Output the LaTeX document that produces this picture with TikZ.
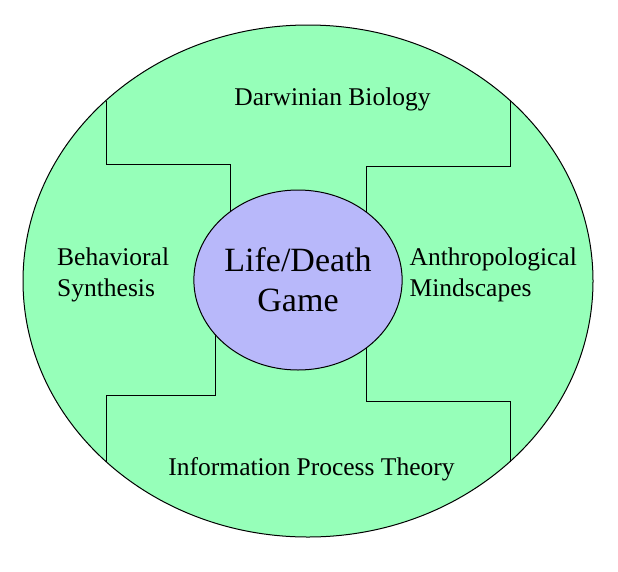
\documentclass[tikz,border=0pt]{standalone}
\usepackage{fontspec}
\setmainfont{Liberation Serif}
\usetikzlibrary{shapes.geometric}
\definecolor{zonegreen}{RGB}{150,255,185}
\definecolor{corepurple}{RGB}{184,184,250}
\begin{document}
\begin{tikzpicture}[x=1pt,y=-1pt,
  outerzone/.style={ellipse, draw=black, fill=zonegreen, line width=1pt,
    minimum width=570pt, minimum height=512pt, inner sep=0pt},
  corezone/.style={ellipse, draw=black, fill=corepurple, line width=1pt,
    minimum width=192pt, minimum height=180pt, inner sep=0pt, align=center,
    font=\fontsize{34}{40}\selectfont},
  divider/.style={draw=black, line width=1pt},
  field/.style={inner sep=0pt, font=\fontsize{25.5}{31}\selectfont, align=left}
]
\useasboundingbox (0,0) rectangle (618,571);
\node[outerzone] (world) at (308,281) {};
% dividers: from outer border to core border
\coordinate (tlA) at (106,100.5);
\coordinate (tlB) at (106,164);
\coordinate (tlC) at (230,164);
\coordinate (tlD) at (230,216.5);
\coordinate (trA) at (510,100.5);
\coordinate (trB) at (510,166);
\coordinate (trC) at (366,166);
\coordinate (trD) at (366,216.5);
\coordinate (blA) at (215,325.2);
\coordinate (blB) at (215,395);
\coordinate (blC) at (106,395);
\coordinate (blD) at (106,461.5);
\coordinate (brA) at (366,343.5);
\coordinate (brB) at (366,401);
\coordinate (brC) at (510,401);
\coordinate (brD) at (510,461.5);
\draw[divider] (tlA) -- (tlB) -- (tlC) -- (tlD);
\draw[divider] (trA) -- (trB) -- (trC) -- (trD);
\draw[divider] (blA) -- (blB) -- (blC) -- (blD);
\draw[divider] (brA) -- (brB) -- (brC) -- (brD);
\node[corezone] (core) at (298,280) {Life/Death\\Game};
\node[field, anchor=base] (darwin) at (332.5,105.5) {Darwinian Biology};
\node[field, anchor=base west] (behav) at (57,296.5) {Behavioral\\Synthesis};
\node[field, anchor=base west] (anthro) at (409.5,296.5) {Anthropological\\Mindscapes};
\node[field, anchor=base] (info) at (311.5,475) {Information Process Theory};
\end{tikzpicture}
\end{document}
